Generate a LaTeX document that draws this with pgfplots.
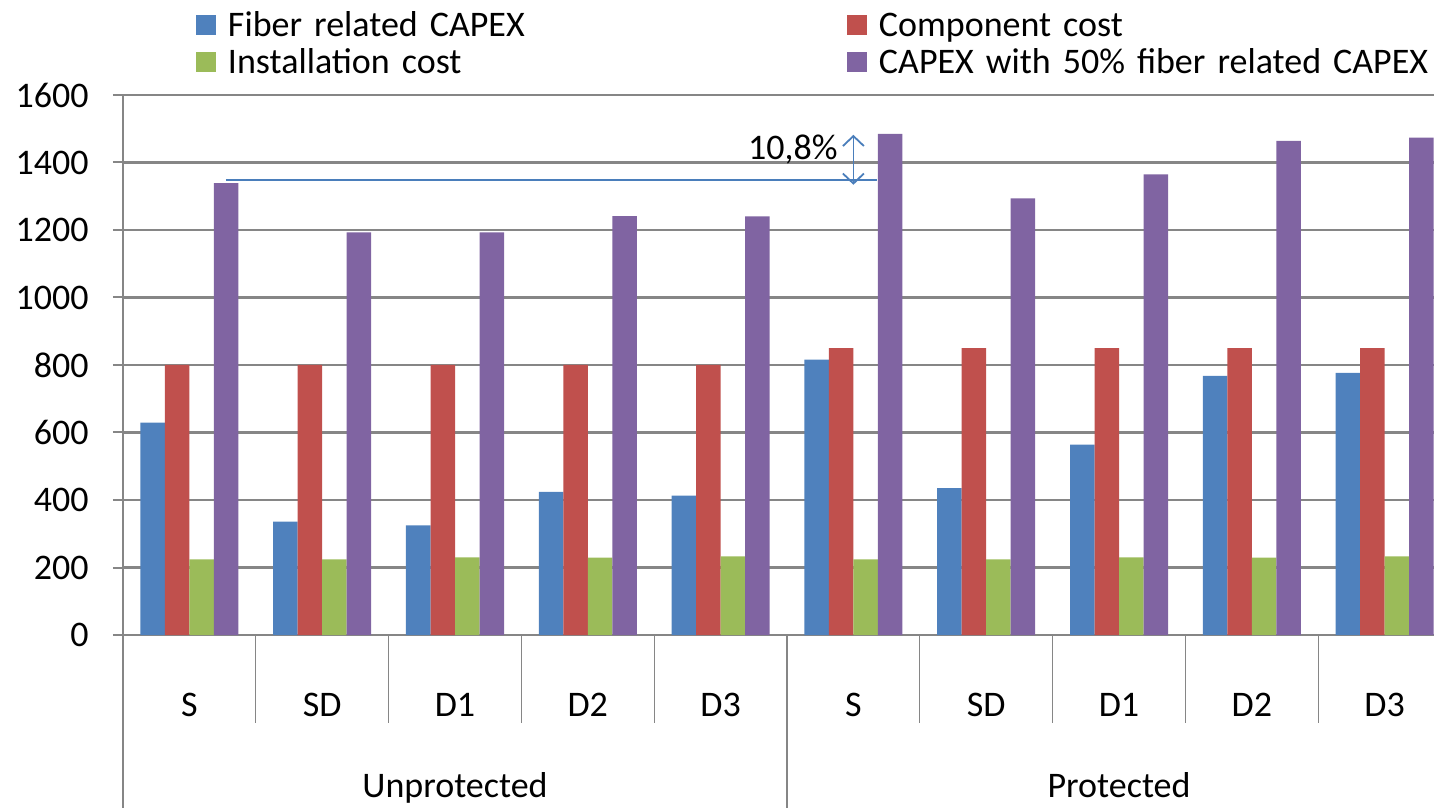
\documentclass[border=0pt]{standalone}
\usepackage{pgfplots}
\pgfplotsset{compat=1.18}
\usepackage{pgfplotstable}
\usetikzlibrary{arrows.meta}
\usepackage{fontspec}
\setmainfont{Carlito}
\definecolor{cblue}{HTML}{4F81BD}
\definecolor{cred}{HTML}{C0504D}
\definecolor{cgreen}{HTML}{9BBB59}
\definecolor{cpurple}{HTML}{8064A2}
\definecolor{axgray}{HTML}{868686}
\definecolor{annblue}{HTML}{4A7EBB}

\pgfplotstableread{
x fiber comp inst capex
0 629 800 224 1339
1 336 800 224 1193
2 325 800 230 1193
3 424 800 229 1241
4 413 800 233 1240
5 816 850 224 1485
6 435 850 224 1294
7 564 850 230 1365
8 768 850 229 1464
9 777 850 233 1474
}\datatable

\begin{document}
\begin{tikzpicture}[font=\fontsize{18}{22}\selectfont]
\begin{axis}[
  scale only axis, width=655.5pt, height=270pt,
  ybar=0pt, bar width=0.1845,
  xmin=-0.5, xmax=9.372,
  ymin=0, ymax=1600,
  clip=false,
  axis lines*=left,
  axis line style={draw=axgray, line width=1.1pt},
  ytick={0,200,...,1600},
  xtick={0,...,9},
  xticklabels={S,SD,D1,D2,D3,S,SD,D1,D2,D3},
  xtick style={draw=none},
  ytick style={draw=axgray, line width=1pt},
  tick align=outside,
  major tick length=5pt,
  ymajorgrids,
  grid style={draw=axgray, line width=1.1pt},
  /pgf/number format/assume math mode=true,
  /pgf/number format/set thousands separator={},
  yticklabel style={inner sep=0pt, xshift=-12pt},
  xticklabel style={anchor=base, inner sep=0pt, yshift=-35.5pt},
  legend columns=2,
  legend cell align=left,
  legend image code/.code={\fill[#1] (0pt,-3.5pt) rectangle (10pt,6.5pt);},
  legend style={at={(rel axis cs:0,1)}, anchor=south west,
    xshift=36.5pt, yshift=6.5pt,
    draw=none, fill=none, inner sep=0pt, outer sep=0pt, row sep=1.5pt,
    nodes={inner sep=0pt, text height=13pt, text depth=4pt, text width=300pt, align=left},
    /tikz/every odd column/.append style={column sep=6pt},
    /tikz/every even column/.append style={column sep=9.5pt}},
]
\addplot[fill=cblue, draw=none] table[x=x,y=fiber]{\datatable};
\addlegendentry{Fiber related CAPEX}
\addplot[fill=cred, draw=none] table[x=x,y=comp]{\datatable};
\addlegendentry{Component cost}
\addplot[fill=cgreen, draw=none] table[x=x,y=inst]{\datatable};
\addlegendentry{Installation cost}
\addplot[fill=cpurple, draw=none] table[x=x,y=capex]{\datatable};
\addlegendentry{CAPEX with 50\% fiber related CAPEX}

\pgfplotsinvokeforeach{0.5,1.5,2.5,3.5,5.5,6.5,7.5,8.5}{
  \draw[axgray, line width=0.6pt] (axis cs:#1,0) -- ++(0pt,-44pt);
}
\draw[axgray, line width=0.6pt] (axis cs:4.5,0) -- ++(0pt,-86.5pt);
\draw[axgray, line width=1.1pt] (axis cs:-0.5,0) -- ++(0pt,-86.5pt);

\node[anchor=base, inner sep=0pt] at ([yshift=-81pt]axis cs:2,0) {Unprotected};
\node[anchor=base, inner sep=0pt] at ([yshift=-81pt]axis cs:7,0) {Protected};

\draw[annblue, line width=1pt] (axis cs:0.2756,1347) -- (axis cs:5.178,1347);
\draw[annblue, line width=0.9pt, {Straight Barb[length=5pt,width=10.5pt]}-{Straight Barb[length=5pt,width=10.5pt]}] (axis cs:5,1334) -- (axis cs:5,1482);
\node[anchor=east, inner sep=0pt] at (axis cs:4.884,1439) {10,8\%};

\coordinate (bl) at (rel axis cs:0,0);
\coordinate (tr) at (rel axis cs:1,1);
\end{axis}
\pgfresetboundingbox
\path[use as bounding box] ([xshift=-61.5pt,yshift=-86.5pt]bl) rectangle ([yshift=47.5pt]tr);
\end{tikzpicture}
\end{document}
